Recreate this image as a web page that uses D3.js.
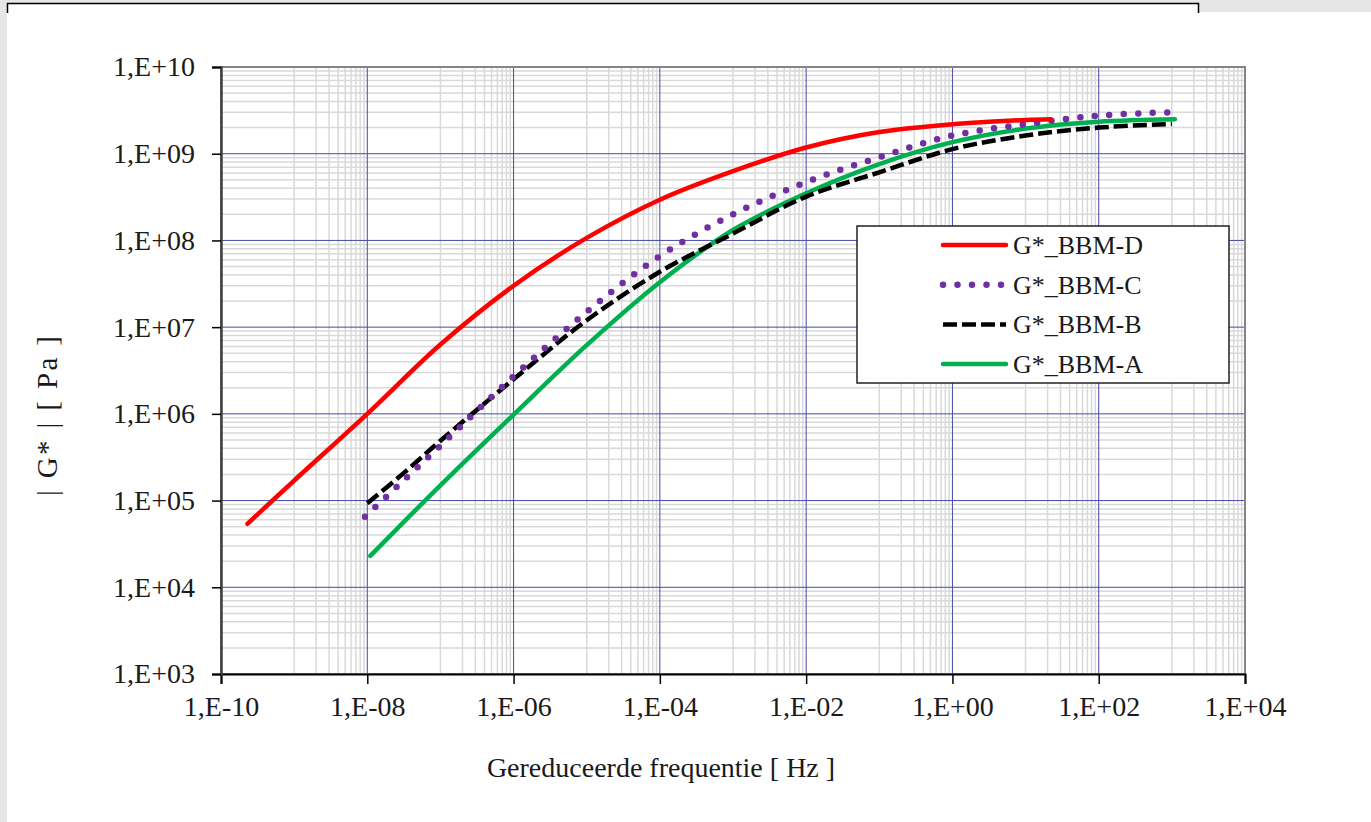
<!DOCTYPE html>
<html lang="nl">
  <head>
    <meta charset="UTF-8" />
    <title>G* BBM</title>
    <script src="https://d3js.org/d3.v7.min.js"></script>
    <style>
      body { margin: 0; background: #e6e6e6; }
      svg { display: block; }
      text { font-family: "Liberation Serif", "DejaVu Serif", serif; fill: #1a1a1a; }
    </style>
  </head>
  <body>
    <div id="chart"></div>
    <script>
      // tick values and labels
      const xTicks = [1e-10, 1e-8, 1e-6, 1e-4, 1e-2, 1e0, 1e2, 1e4];
      const xTickLabels = ["1,E-10", "1,E-08", "1,E-06", "1,E-04", "1,E-02", "1,E+00", "1,E+02", "1,E+04"];
      const yTicks = [1e3, 1e4, 1e5, 1e6, 1e7, 1e8, 1e9, 1e10];
      const yTickLabels = ["1,E+03", "1,E+04", "1,E+05", "1,E+06", "1,E+07", "1,E+08", "1,E+09", "1,E+10"];

      // series (frequency in Hz, |G*| in Pa)
      const seriesNames = ["G*_BBM-D", "G*_BBM-C", "G*_BBM-B", "G*_BBM-A"];
      const freqD = [2.3e-10, 1e-9, 1e-8, 1e-7, 1e-6, 1e-5, 1e-4, 1e-3, 1e-2, 1e-1, 1, 10, 22];
      const gD = [5.4e4, 1.7e5, 1.0e6, 6.3e6, 3.0e7, 1.07e8, 2.95e8, 6.3e8, 1.18e9, 1.78e9, 2.19e9, 2.45e9, 2.5e9];
      const freqC = [9.3e-9, 1.8e-8, 1e-7, 1e-6, 1e-5, 1e-4, 1e-3, 1e-2, 1e-1, 1, 10, 100, 900];
      const gC = [6.5e4, 1.1e5, 4.3e5, 2.7e6, 1.5e7, 6.6e7, 2.0e8, 4.7e8, 9.1e8, 1.62e9, 2.19e9, 2.75e9, 3.0e9];
      const freqB = [1e-8, 3.2e-8, 1e-7, 1e-6, 1e-5, 1e-4, 1e-3, 1e-2, 1e-1, 1, 10, 100, 1000];
      const gB = [9.3e4, 2.1e5, 4.9e5, 2.5e6, 1.2e7, 4.35e7, 1.2e8, 3.2e8, 6.1e8, 1.13e9, 1.62e9, 2.0e9, 2.2e9];
      const freqA = [1.1e-8, 1e-7, 1e-6, 1e-5, 1e-4, 1e-3, 1e-2, 1e-1, 1, 10, 100, 1100];
      const gA = [2.3e4, 1.5e5, 9.8e5, 6.2e6, 3.3e7, 1.32e8, 3.5e8, 7.6e8, 1.36e9, 1.95e9, 2.34e9, 2.5e9];

      const W = 1371, H = 822;
      const plotL = 221, plotR = 1245, plotT = 67, plotB = 674;

      const svg = d3.select("#chart").append("svg").attr("width", W).attr("height", H);

      // page background pieces
      svg.append("rect").attr("x", 7).attr("y", 12).attr("width", W - 7).attr("height", H - 12).attr("fill", "#fff");
      svg.append("rect").attr("x", 7).attr("y", 4).attr("width", 1191.5).attr("height", 10).attr("fill", "#fff");
      svg.append("path").attr("d", "M7.5,13V3.5H1198.5V13").attr("fill", "none").attr("stroke", "#000").attr("stroke-width", 1.5);

      const x = d3.scaleLog().domain([1e-10, 1e4]).range([plotL, plotR]);
      const y = d3.scaleLog().domain([1e3, 1e10]).range([plotB, plotT]);

      // minor gridlines
      const xMinor = [];
      for (let e = -9; e <= 3; e += 2) for (let k = 1; k <= 9; k++) xMinor.push(k * Math.pow(10, e));
      const yMinor = [];
      for (let e = 3; e <= 9; e++) for (let k = 2; k <= 9; k++) yMinor.push(k * Math.pow(10, e));

      const grid = svg.append("g");
      grid.selectAll(".xm").data(xMinor).enter().append("line")
        .attr("x1", d => x(d)).attr("x2", d => x(d)).attr("y1", plotT).attr("y2", plotB)
        .attr("stroke", "#d9d9d9").attr("stroke-width", 1.5);
      grid.selectAll(".ym").data(yMinor).enter().append("line")
        .attr("x1", plotL).attr("x2", plotR).attr("y1", d => y(d)).attr("y2", d => y(d))
        .attr("stroke", "#d9d9d9").attr("stroke-width", 1.5);

      // major gridlines
      grid.selectAll(".xM").data(xTicks.slice(1, -1)).enter().append("line")
        .attr("x1", d => x(d)).attr("x2", d => x(d)).attr("y1", plotT).attr("y2", plotB)
        .attr("stroke", "#4848a8").attr("stroke-width", 1);
      grid.selectAll(".yM").data(yTicks.slice(1, -1)).enter().append("line")
        .attr("x1", plotL).attr("x2", plotR).attr("y1", d => y(d)).attr("y2", d => y(d))
        .attr("stroke", "#4848a8").attr("stroke-width", 1);

      // plot frame
      svg.append("rect").attr("x", plotL).attr("y", plotT).attr("width", plotR - plotL).attr("height", plotB - plotT)
        .attr("fill", "none").attr("stroke", "#858585").attr("stroke-width", 2);

      // axes
      const xAxis = svg.append("g").attr("transform", `translate(0,${plotB})`)
        .call(d3.axisBottom(x).tickValues(xTicks).tickFormat((d, i) => xTickLabels[i]).tickSize(10).tickPadding(12));
      const yAxis = svg.append("g").attr("transform", `translate(${plotL},0)`)
        .call(d3.axisLeft(y).tickValues(yTicks).tickFormat((d, i) => yTickLabels[i]).tickSize(9).tickPadding(17));
      [xAxis, yAxis].forEach(a => {
        a.selectAll("text").attr("font-size", 28).attr("font-family", "Liberation Serif").attr("fill", "#1a1a1a");
        a.selectAll("line").attr("stroke", "#000").attr("stroke-width", 1.5);
      });
      xAxis.select(".domain").attr("stroke", "#000").attr("stroke-width", 2);
      yAxis.select(".domain").attr("stroke", "#404040").attr("stroke-width", 2.5);
      yAxis.selectAll("text").attr("dy", "0.32em");

      // series
      const styles = [
        { color: "#ff0000", width: 4.5, dash: null, cap: "round" },
        { color: "#7030a0", width: 6.5, dash: "0 14.5", cap: "round" },
        { color: "#000000", width: 4.5, dash: "14 5", cap: "butt" },
        { color: "#00b050", width: 4.5, dash: null, cap: "round" }
      ];
      const freqs = [freqD, freqC, freqB, freqA];
      const gs = [gD, gC, gB, gA];
      const line = d3.line().x(d => x(d[0])).y(d => y(d[1])).curve(d3.curveCatmullRom.alpha(0.5));

      // draw A first so D sits on top like the original
      [3, 2, 1, 0].forEach(i => {
        const pts = freqs[i].map((f, j) => [f, gs[i][j]]);
        svg.append("path").datum(pts).attr("d", line)
          .attr("fill", "none").attr("stroke", styles[i].color).attr("stroke-width", styles[i].width)
          .attr("stroke-dasharray", styles[i].dash).attr("stroke-linecap", styles[i].cap);
      });

      // legend
      const lg = svg.append("g");
      lg.append("rect").attr("x", 857).attr("y", 226).attr("width", 372).attr("height", 157)
        .attr("fill", "#fff").attr("stroke", "#222").attr("stroke-width", 1.5);
      seriesNames.forEach((name, i) => {
        const ly = 245 + i * 39.7;
        lg.append("line").attr("x1", 943).attr("x2", 1006).attr("y1", ly).attr("y2", ly)
          .attr("stroke", styles[i].color).attr("stroke-width", styles[i].width)
          .attr("stroke-dasharray", styles[i].dash).attr("stroke-linecap", styles[i].cap);
        lg.append("text").attr("x", 1013).attr("y", ly).attr("dy", "0.34em")
          .attr("font-size", 26).text(name);
      });

      // axis titles
      svg.append("text").attr("x", 661).attr("y", 777).attr("text-anchor", "middle")
        .attr("font-size", 28).text("Gereduceerde frequentie [ Hz ]");
      svg.append("text").attr("transform", "translate(57,416) rotate(-90)").attr("text-anchor", "middle")
        .attr("font-size", 29).attr("textLength", 160).attr("lengthAdjust", "spacing")
        .text("| G* |  [ Pa ]");
    </script>
  </body>
</html>
